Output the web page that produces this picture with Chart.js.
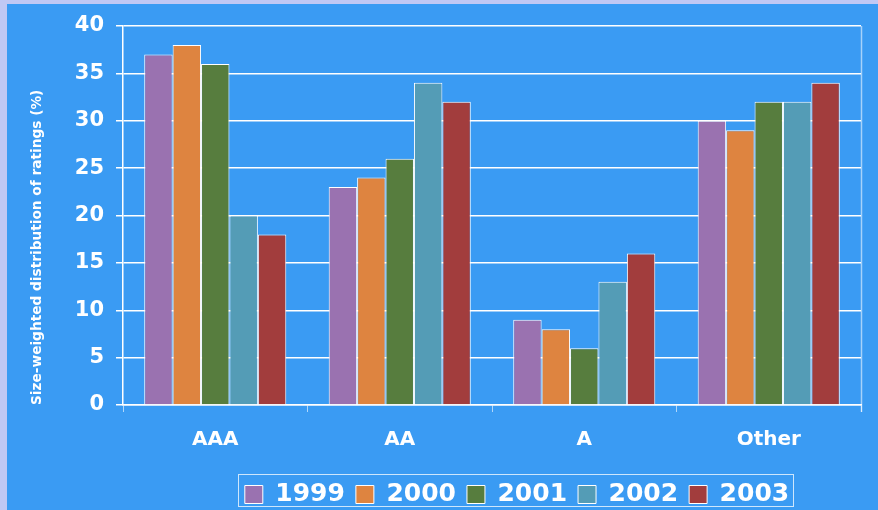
<!DOCTYPE html>
<html>
<head>
<meta charset="utf-8">
<script src="https://cdn.jsdelivr.net/npm/chart.js@4/dist/chart.umd.min.js"></script>
<style>
  html, body { margin: 0; padding: 0; background: #3a9bf3; }
  #wrap { width: 878px; height: 510px; }
</style>
</head>
<body>
<div id="wrap"><canvas id="chart" width="878" height="510"></canvas></div>
<script>
// ------------------ DATA ------------------
const categories = ["AAA", "AA", "A", "Other"];
const years = ["1999", "2000", "2001", "2002", "2003"];
const values1999 = [37, 23, 9, 30];
const values2000 = [38, 24, 8, 29];
const values2001 = [36, 26, 6, 32];
const values2002 = [20, 34, 13, 32];
const values2003 = [18, 32, 16, 34];
const yTicks = [0, 5, 10, 15, 20, 25, 30, 35, 40];

const seriesValues = [values1999, values2000, values2001, values2002, values2003];
const seriesColors = ["#9a72b0", "#de8440", "#577d3e", "#549cb6", "#a23d3d"];

// ------------------ PLUGINS ------------------
// page frame: lavender strip on left/top, blue field
const framePlugin = {
    id: "frame",
    beforeDraw(chart) {
        const ctx = chart.ctx;
        ctx.save();
        ctx.fillStyle = "#c0c8f4";
        ctx.fillRect(0, 0, chart.width, chart.height);
        ctx.fillStyle = "#3a9bf3";
        ctx.fillRect(7, 4, chart.width - 7, chart.height - 4);
        ctx.restore();
    },
    afterDatasetsDraw(chart) {
        // faint right border of the plot
        const a = chart.chartArea;
        const ctx = chart.ctx;
        ctx.save();
        ctx.strokeStyle = "rgba(255,255,255,0.55)";
        ctx.lineWidth = 1.5;
        ctx.beginPath();
        ctx.moveTo(a.right + 0.5, a.top);
        ctx.lineTo(a.right + 0.5, a.bottom + 7);
        ctx.stroke();
        ctx.restore();
    }
};

// nudge the legend to where it sits in the reference and box it
const LEGEND_DX = 25, LEGEND_DY = 7;
const legendBoxPlugin = {
    id: "legendBox",
    afterUpdate(chart) {
        const lg = chart.legend;
        lg.left += LEGEND_DX; lg.right += LEGEND_DX;
        lg.top += LEGEND_DY; lg.bottom += LEGEND_DY;
        lg.legendHitBoxes.forEach(hb => { hb.left += LEGEND_DX; hb.top += LEGEND_DY; });
    },
    afterDraw(chart) {
        const boxes = chart.legend.legendHitBoxes;
        if (!boxes.length) return;
        const left = Math.min(...boxes.map(b => b.left)) - 7;
        const right = Math.max(...boxes.map(b => b.left + b.width)) + 4;
        const top = Math.min(...boxes.map(b => b.top)) - 8;
        const bottom = Math.max(...boxes.map(b => b.top + b.height)) - 1;
        const ctx = chart.ctx;
        ctx.save();
        ctx.strokeStyle = "rgba(255,255,255,0.75)";
        ctx.lineWidth = 1;
        ctx.strokeRect(Math.round(left) + 0.5, Math.round(top) + 0.5, Math.round(right - left), Math.round(bottom - top));
        ctx.restore();
    }
};

// ------------------ CHART ------------------
const ctx = document.getElementById("chart").getContext("2d");

new Chart(ctx, {
    type: "bar",
    data: {
        labels: categories,
        datasets: years.map((yr, i) => ({
            label: yr,
            data: seriesValues[i],
            backgroundColor: seriesColors[i],
            borderColor: "#ffffff",
            borderWidth: 1,
            categoryPercentage: 0.77,
            barPercentage: 1.0
        }))
    },
    options: {
        responsive: false,
        animation: false,
        layout: { padding: { top: 26, right: 17, left: 0, bottom: 0 } },
        plugins: {
            legend: {
                position: "bottom",
                fullSize: false,
                labels: {
                    color: "#ffffff",
                    boxWidth: 18,
                    boxHeight: 18,
                    padding: 11,
                    font: { family: "'DejaVu Sans', sans-serif", size: 25, weight: "bold" },
                    generateLabels(chart) {
                        return chart.data.datasets.map((ds, i) => ({
                            text: ds.label,
                            fillStyle: ds.backgroundColor,
                            strokeStyle: "#ffffff",
                            lineWidth: 1,
                            fontColor: "#ffffff",
                            datasetIndex: i,
                            hidden: false
                        }));
                    }
                }
            },
            tooltip: { enabled: false }
        },
        scales: {
            x: {
                afterFit(scale) { scale.height = 59; },
                grid: {
                    drawOnChartArea: false,
                    color: "rgba(255,255,255,0.6)",
                    tickLength: 7,
                    offset: true
                },
                border: { color: "#ffffff", width: 1.5 },
                ticks: {
                    color: "#ffffff",
                    padding: 16,
                    font: { family: "'DejaVu Sans', sans-serif", size: 20, weight: "bold" }
                }
            },
            y: {
                min: 0,
                max: 40,
                afterFit(scale) { scale.width = 123; },
                afterBuildTicks(scale) { scale.ticks = yTicks.map(v => ({ value: v })); },
                grid: {
                    color: "#ffffff",
                    lineWidth: 1.5,
                    tickLength: 7
                },
                border: { color: "#ffffff", width: 1.5 },
                ticks: {
                    color: "#ffffff",
                    padding: 12,
                    font: { family: "'DejaVu Sans', sans-serif", size: 21, weight: "bold" }
                },
                title: {
                    display: true,
                    text: "Size-weighted distribution of ratings (%)",
                    color: "#ffffff",
                    align: "start",
                    padding: { top: 29, bottom: 0 },
                    font: { family: "'DejaVu Sans', sans-serif", size: 13.7, weight: "bold" }
                }
            }
        }
    },
    plugins: [framePlugin, legendBoxPlugin]
});
</script>
</body>
</html>
